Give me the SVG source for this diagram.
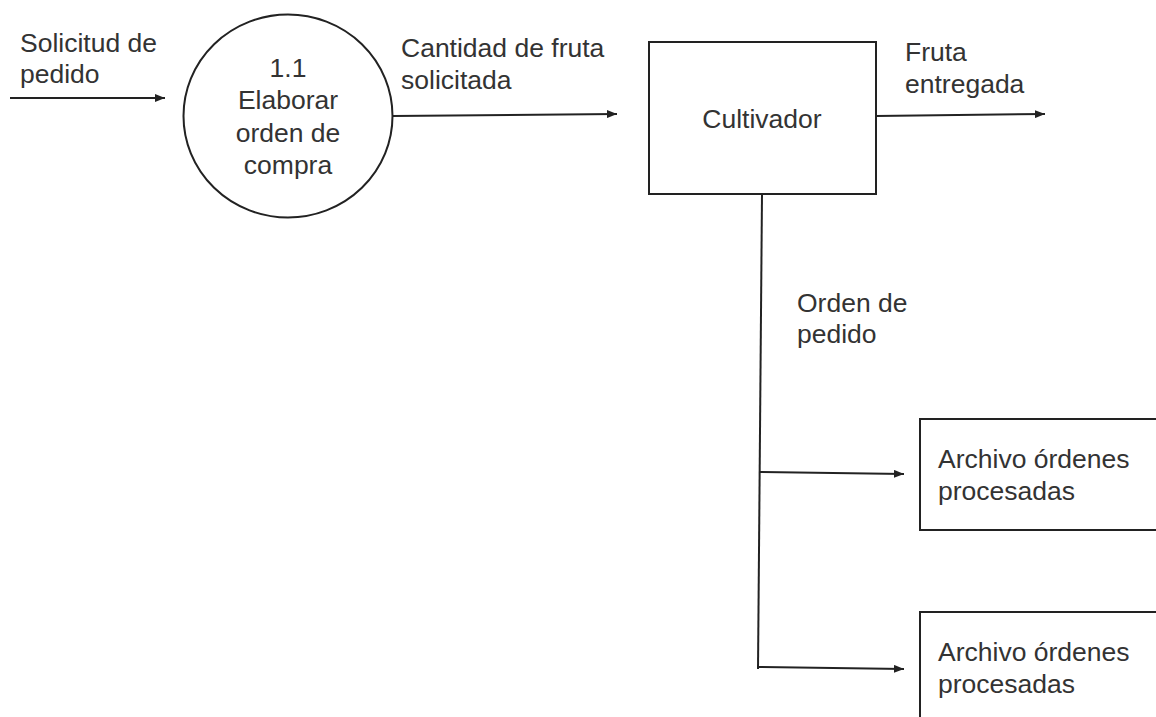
<svg xmlns="http://www.w3.org/2000/svg" width="1156" height="717" viewBox="0 0 1156 717">
<style>
  .lbl { font-family: "Liberation Sans", Arial, sans-serif; font-size: 26.5px; fill: #333; }
  .c { text-anchor: middle; }
  .shape { fill: #fff; stroke: #222; stroke-width: 2; }
  .flow { fill: none; stroke: #222; stroke-width: 2; }
</style>
<defs>
  <marker id="arr" viewBox="0 0 10 8" refX="10" refY="4" markerWidth="10" markerHeight="8" markerUnits="userSpaceOnUse" orient="auto">
    <path d="M0,0 L10,4 L0,8 Z" fill="#222"/>
  </marker>
</defs>
<rect width="1156" height="717" fill="#fff"/>

<g id="connectors">
  <line class="flow" x1="10" y1="98" x2="165" y2="98" marker-end="url(#arr)"/>
  <line class="flow" x1="393" y1="116" x2="617" y2="114" marker-end="url(#arr)"/>
  <line class="flow" x1="876" y1="116" x2="1045" y2="114" marker-end="url(#arr)"/>
  <line class="flow" x1="762" y1="194" x2="758" y2="669"/>
  <line class="flow" x1="759" y1="472" x2="904" y2="474" marker-end="url(#arr)"/>
  <line class="flow" x1="757" y1="667" x2="904" y2="669" marker-end="url(#arr)"/>
</g>

<g id="label-solicitud">
  <text class="lbl" x="20" y="52">Solicitud de</text>
  <text class="lbl" x="20" y="83">pedido</text>
</g>

<g id="process-1-1">
  <ellipse class="shape" cx="288" cy="116" rx="104.5" ry="101.5"/>
  <text class="lbl c" x="288" y="77">1.1</text>
  <text class="lbl c" x="288" y="109">Elaborar</text>
  <text class="lbl c" x="288" y="142">orden de</text>
  <text class="lbl c" x="288" y="174">compra</text>
</g>

<g id="label-cantidad">
  <text class="lbl" x="401" y="57">Cantidad de fruta</text>
  <text class="lbl" x="401" y="89">solicitada</text>
</g>

<g id="cultivador">
  <rect class="shape" x="649" y="42" width="227" height="152"/>
  <text class="lbl c" x="762" y="128">Cultivador</text>
</g>

<g id="label-fruta">
  <text class="lbl" x="905" y="61">Fruta</text>
  <text class="lbl" x="905" y="93">entregada</text>
</g>

<g id="label-orden">
  <text class="lbl" x="797" y="312">Orden de</text>
  <text class="lbl" x="797" y="343">pedido</text>
</g>

<g id="archivo-1">
  <rect class="shape" x="920" y="419" width="250" height="111"/>
  <text class="lbl" x="938" y="468">Archivo órdenes</text>
  <text class="lbl" x="938" y="500">procesadas</text>
</g>

<g id="archivo-2">
  <rect class="shape" x="920" y="612" width="250" height="120"/>
  <text class="lbl" x="938" y="661">Archivo órdenes</text>
  <text class="lbl" x="938" y="693">procesadas</text>
</g>
</svg>
